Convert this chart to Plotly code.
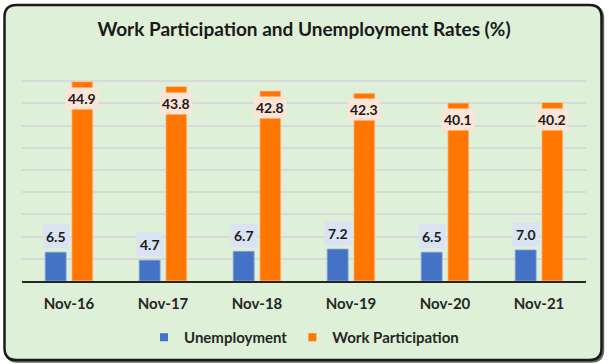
import plotly.graph_objects as go

categories = ["Nov-16", "Nov-17", "Nov-18", "Nov-19", "Nov-20", "Nov-21"]
unemployment = [6.5, 4.7, 6.7, 7.2, 6.5, 7.0]
work_participation = [44.9, 43.8, 42.8, 42.3, 40.1, 40.2]
series_names = ["Unemployment", "Work Participation"]
title_text = "Work Participation and Unemployment Rates (%)"

BLUE = "#4472C4"
ORANGE = "#FF7700"
FONT = "Lato"

W, H = 609, 364
ML, MR, MT, MB = 22, 23, 59, 83
PW, PH = W - ML - MR, H - MT - MB


def px2paper(px, py):
    return (px - ML) / PW, (H - MB - py) / PH


def rounded_path(x0, y0, x1, y1, r):
    def P(x, y):
        xp, yp = px2paper(x, y)
        return f"{xp:.5f},{yp:.5f}"
    return (
        f"M{P(x0 + r, y0)} L{P(x1 - r, y0)} Q{P(x1, y0)} {P(x1, y0 + r)} "
        f"L{P(x1, y1 - r)} Q{P(x1, y1)} {P(x1 - r, y1)} "
        f"L{P(x0 + r, y1)} Q{P(x0, y1)} {P(x0, y1 - r)} "
        f"L{P(x0, y0 + r)} Q{P(x0, y0)} {P(x0 + r, y0)} Z"
    )


fig = go.Figure()
fig.add_trace(go.Bar(
    name=series_names[0], x=categories, y=unemployment, showlegend=False,
    marker=dict(color=BLUE, line=dict(color="#8FAADC", width=0.8)),
))
fig.add_trace(go.Bar(
    name=series_names[1], x=categories, y=work_participation, showlegend=False,
    marker=dict(color=ORANGE, line=dict(color="#F8CBAD", width=0.8)),
))
# legend entries (small square keys, as in the reference)
for nm, col in zip(series_names, [BLUE, ORANGE]):
    fig.add_trace(go.Scatter(
        x=[None], y=[None], mode="markers", name=f"<b>{nm}</b>",
        marker=dict(symbol="square", size=8, color=col), showlegend=True,
    ))

bargap = 0.432
bgg = 0.213
slot = PW / len(categories)
half = slot * (1 - bargap) / 2 / 2  # center offset of each bar

annotations = []
for c, u, w in zip(categories, unemployment, work_participation):
    annotations.append(dict(
        x=c, y=u, xref="x", yref="y", text=f"<b>{u:.1f}</b>", showarrow=False,
        xshift=-half, yshift=15.5, yanchor="middle",
        bgcolor="#DAE3F3", borderpad=3,
        font=dict(family=FONT, size=14, color="#1a1a1a"),
    ))
    annotations.append(dict(
        x=c, y=w, xref="x", yref="y", text=f"<b>{w:.1f}</b>", showarrow=False,
        xshift=half, yshift=-16.5, yanchor="middle",
        bgcolor="#FCE4D6", borderpad=2,
        font=dict(family=FONT, size=14, color="#1a1a1a"),
    ))

shapes = [
    dict(type="path", xref="paper", yref="paper", layer="below",
         path=rounded_path(6.0, 6.5, 603.0, 361.5, 12),
         line=dict(color="#666666", width=2.5), fillcolor="#666666"),
    dict(type="path", xref="paper", yref="paper", layer="below",
         path=rounded_path(4.5, 5.0, 601.5, 360.0, 12),
         line=dict(color="#1a1a1a", width=2.5), fillcolor="#DFF0D8"),
]

fig.update_layout(
    width=W, height=H,
    margin=dict(l=ML, r=MR, t=MT, b=MB, autoexpand=False),
    paper_bgcolor="white",
    plot_bgcolor="rgba(0,0,0,0)",
    barmode="group", bargap=bargap, bargroupgap=bgg,
    title=dict(text=f"<b>{title_text}</b>", x=0.5, xref="paper", xanchor="center",
               y=1 - 29 / H, yanchor="middle",
               font=dict(family=FONT, size=19, color="#1a1a1a")),
    xaxis=dict(showline=True, linecolor="#262626", linewidth=1.5, showgrid=False,
               tickfont=dict(family=FONT, size=15, color="#262626"),
               ticks="", ticklabelstandoff=8,
               tickvals=categories, ticktext=[f"<b>{c}</b>" for c in categories]),
    yaxis=dict(range=[0, 50], dtick=5, showticklabels=False, showgrid=True,
               gridcolor="#D9D9DC", gridwidth=1.5, zeroline=False),
    legend=dict(orientation="h", x=0.5, xanchor="center",
                y=(H - MB - 337.5) / PH, yanchor="middle",
                font=dict(family=FONT, size=15, color="#262626"),
                bgcolor="rgba(0,0,0,0)", itemwidth=30),
    annotations=annotations,
    shapes=shapes,
)

fig.write_html("out.html",
               config={"displayModeBar": False},
               post_script="document.body.style.margin='0';document.body.style.overflow='hidden';")
